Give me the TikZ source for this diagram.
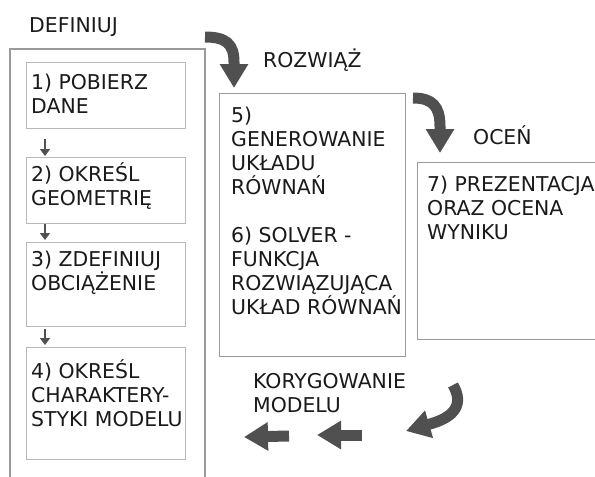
\documentclass[tikz,border=0pt]{standalone}
\usepackage{fontspec}
\setmainfont{DejaVu Sans}
\usetikzlibrary{arrows.meta}
\definecolor{arr}{HTML}{505050}
\definecolor{boxc}{HTML}{B8B8B8}
\definecolor{outc}{HTML}{9A9A9A}
\definecolor{txt}{HTML}{1A1A1A}
\newcommand{\fl}{\vphantom{Ś}}
\tikzset{
  lbl/.style={font=\fontsize{20.4}{24}\selectfont, text=txt, inner sep=0pt, align=left, anchor=north west},
  stepbox/.style={draw=boxc, line width=1pt},
  outerbox/.style={draw=outc, line width=1.2pt},
  bigarrow/.style={draw=arr, line width=11pt, -{Triangle[length=24pt,width=27pt]}},
  smallarrow/.style={draw=arr, line width=2.6pt, -{Triangle[length=7pt,width=10pt]}}
}
\begin{document}
\begin{tikzpicture}[x=1pt,y=-1pt]
\useasboundingbox (0,0) rectangle (595,477);
\clip (0,0) rectangle (595,477);
\fill[white] (0,0) rectangle (595,477);
% outer open box
\draw[outerbox] (10,480) -- (10,49) -- (205,49) -- (205,480);
% left column boxes
\node[stepbox, minimum width=159pt, minimum height=66pt, anchor=north west] (b1) at (26,62) {};
\node[stepbox, minimum width=159pt, minimum height=66pt, anchor=north west] (b2) at (26,157) {};
\node[stepbox, minimum width=159pt, minimum height=84pt, anchor=north west] (b3) at (26,242) {};
\node[stepbox, minimum width=159pt, minimum height=112pt, anchor=north west] (b4) at (26,347) {};
\node[stepbox, draw=outc, minimum width=186pt, minimum height=263pt, anchor=north west] (b5) at (219,93) {};
\node[stepbox, draw=outc, minimum width=190pt, minimum height=177pt, anchor=north west] (b7) at (417,162) {};
% texts
\node[lbl, anchor=base west] (tdef) at (29,32) {DEFINIUJ};
\node[lbl, anchor=base west] (troz) at (263,67) {ROZWIĄŻ};
\node[lbl, anchor=base west] (toce) at (473,144) {OCEŃ};
\node[lbl] (tkor) at (253,369) {\fl KORYGOWANIE\\MODELU};
\node[lbl] (t1) at (31,70) {\fl 1) POBIERZ\\DANE};
\node[lbl] (t2) at (31,162) {\fl 2) OKREŚL\\GEOMETRIĘ};
\node[lbl] (t3) at (31,247) {\fl 3) ZDEFINIUJ\\OBCIĄŻENIE};
\node[lbl] (t4) at (31,359) {\fl 4) OKREŚL\\CHARAKTERY-\\STYKI MODELU};
\node[lbl] (t5) at (231,103) {\fl 5)\\GENEROWANIE\\UKŁADU\\RÓWNAŃ\\[24pt]6) SOLVER -\\FUNKCJA\\ROZWIĄZUJĄCA\\UKŁAD RÓWNAŃ};
\node[lbl] (t7) at (427,172) {\fl 7) PREZENTACJA\\ORAZ OCENA\\WYNIKU};
% small arrows
\coordinate (s1a) at (45,139); \coordinate (s1b) at (45,156);
\coordinate (s2a) at (45,224); \coordinate (s2b) at (45,240);
\coordinate (s3a) at (45,329); \coordinate (s3b) at (45,345);
\draw[smallarrow] (s1a) -- (s1b);
\draw[smallarrow] (s2a) -- (s2b);
\draw[smallarrow] (s3a) -- (s3b);
% curved arrows
\coordinate (c1s) at (205,37); \coordinate (c1e) at (234,88);
\draw[bigarrow] (c1s) .. controls (226,37) and (234,44) .. (234,62) -- (c1e);
\coordinate (c2s) at (413,98); \coordinate (c2e) at (440,153);
\draw[bigarrow] (c2s) .. controls (432,98) and (440,106) .. (440,126) -- (c2e);
\coordinate (c3s) at (453,385); \coordinate (c3e) at (406,431);
\draw[bigarrow] (c3s) .. controls (464,404) and (455,417) .. (430,424) -- (c3e);
% straight arrows
\coordinate (a1s) at (289,436); \coordinate (a1e) at (244,437);
\draw[bigarrow] (a1s) -- (a1e);
\coordinate (a2s) at (362,435); \coordinate (a2e) at (317,435);
\draw[bigarrow] (a2s) -- (a2e);
\end{tikzpicture}
\end{document}
